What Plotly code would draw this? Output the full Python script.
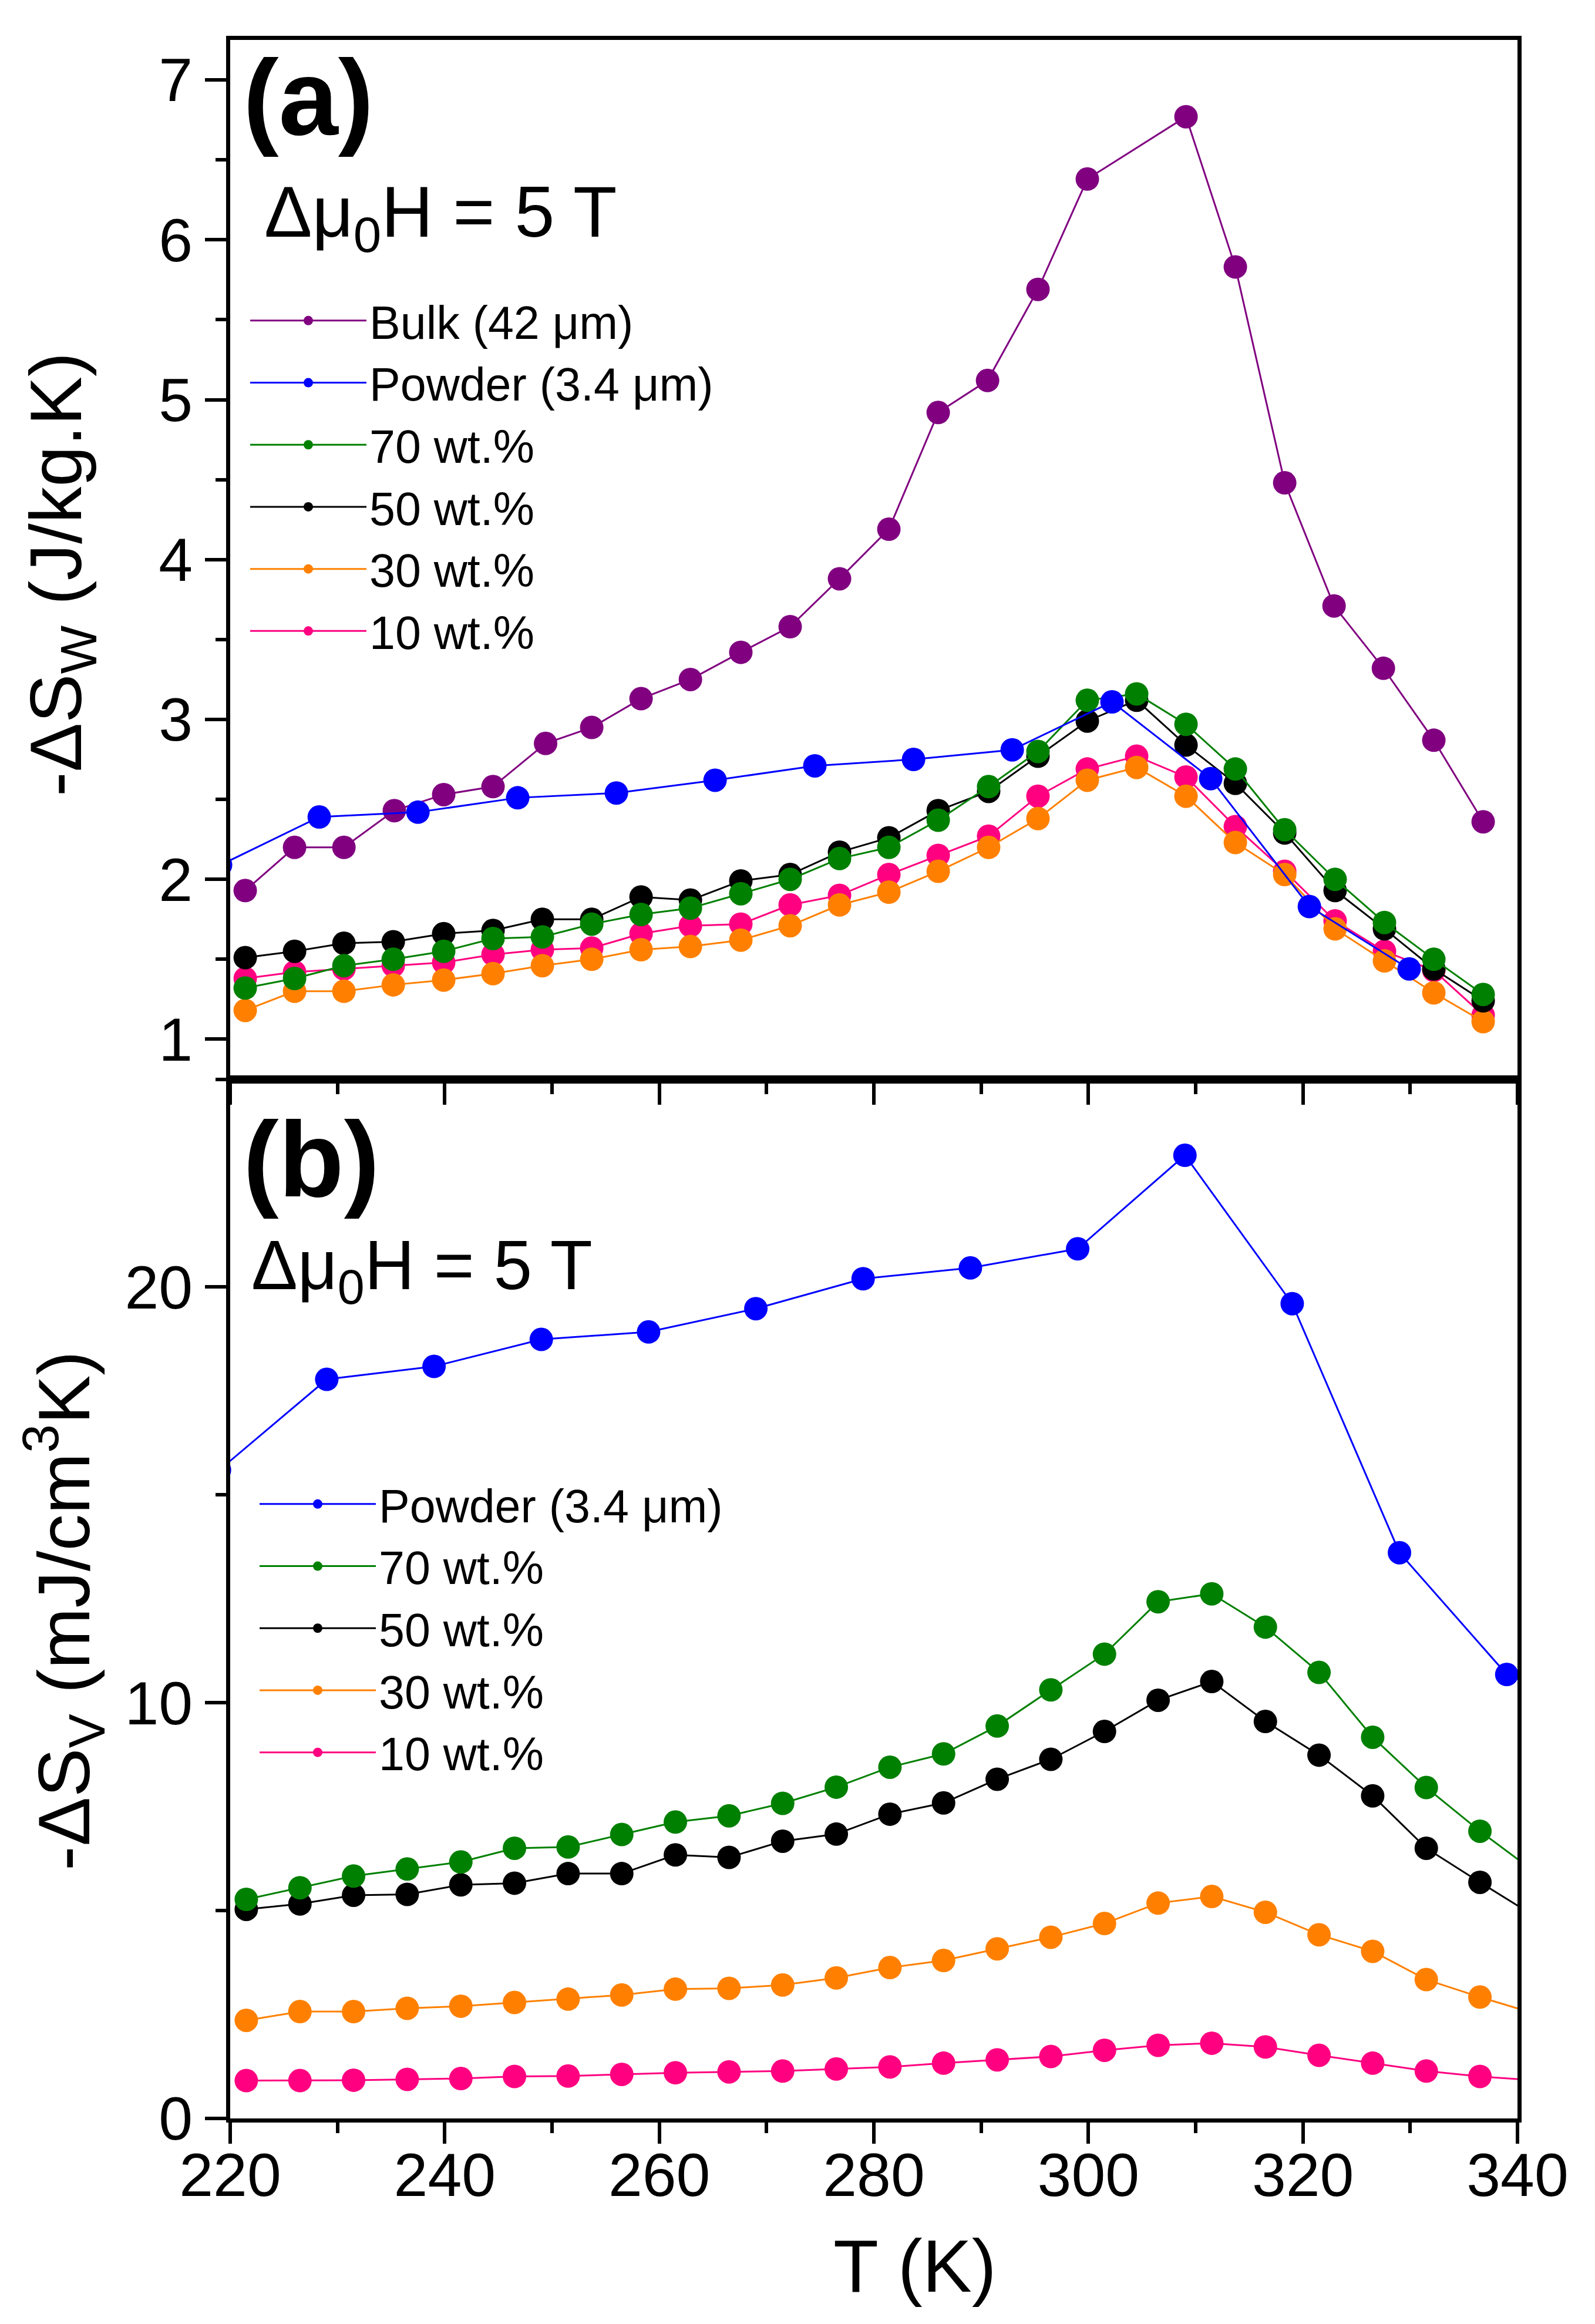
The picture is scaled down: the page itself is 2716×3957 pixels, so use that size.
import plotly.graph_objects as go
from plotly.subplots import make_subplots

# ---------------- data ----------------
T_a = [221.4, 226.0, 230.6, 235.2, 239.9, 244.5, 249.1, 253.7, 258.3, 262.9, 267.6, 272.2, 276.8,
       281.4, 286.0, 290.7, 295.3, 299.9, 304.5, 309.1, 313.7, 318.3, 323.0, 327.6, 332.2, 336.8]
T_bulk = [221.4, 226.0, 230.6, 235.3, 239.9, 244.5, 249.4, 253.7, 258.3, 262.9, 267.6, 272.2, 276.8,
          281.4, 286.0, 290.6, 295.3, 299.9, 309.1, 313.7, 318.3, 322.9, 327.5, 332.2, 336.8]
bulk_a = [1.93, 2.20, 2.20, 2.43, 2.53, 2.58, 2.85, 2.95, 3.13, 3.25, 3.42, 3.58, 3.88,
          4.19, 4.92, 5.12, 5.69, 6.38, 6.77, 5.83, 4.48, 3.71, 3.32, 2.87, 2.36]
T_powder_a = [219.1, 228.3, 237.5, 246.8, 256.0, 265.2, 274.5, 283.7, 292.9, 302.2, 311.4, 320.6, 329.9]
powder_a = [2.09, 2.39, 2.42, 2.51, 2.54, 2.62, 2.71, 2.75, 2.81, 3.11, 2.63, 1.83, 1.44]
w70_a = [1.32, 1.38, 1.46, 1.50, 1.55, 1.63, 1.64, 1.72, 1.78, 1.82, 1.91, 2.00, 2.13,
         2.20, 2.37, 2.58, 2.80, 3.12, 3.16, 2.97, 2.69, 2.31, 2.00, 1.73, 1.50, 1.28]
w50_a = [1.51, 1.55, 1.60, 1.61, 1.66, 1.68, 1.75, 1.75, 1.89, 1.87, 1.99, 2.03, 2.17,
         2.26, 2.43, 2.55, 2.77, 2.99, 3.12, 2.84, 2.60, 2.29, 1.93, 1.69, 1.44, 1.24]
w30_a = [1.18, 1.30, 1.30, 1.34, 1.37, 1.41, 1.46, 1.50, 1.56, 1.58, 1.62, 1.71, 1.84,
         1.92, 2.05, 2.20, 2.38, 2.62, 2.70, 2.52, 2.23, 2.03, 1.69, 1.49, 1.29, 1.11]
w10_a = [1.38, 1.42, 1.44, 1.46, 1.48, 1.53, 1.56, 1.57, 1.66, 1.71, 1.72, 1.84, 1.90,
         2.03, 2.15, 2.27, 2.52, 2.69, 2.77, 2.64, 2.33, 2.05, 1.74, 1.55, 1.43, 1.15]

T_b = [221.5, 226.5, 231.5, 236.5, 241.5, 246.5, 251.5, 256.5, 261.5, 266.5, 271.5, 276.5, 281.5,
       286.5, 291.5, 296.5, 301.5, 306.5, 311.5, 316.5, 321.5, 326.5, 331.5, 336.5, 341.5]
w70_b = [5.27, 5.55, 5.83, 6.00, 6.17, 6.50, 6.53, 6.83, 7.13, 7.28, 7.58, 7.97, 8.45,
         8.77, 9.44, 10.31, 11.17, 12.43, 12.62, 11.82, 10.73, 9.17, 7.96, 6.91, 5.95]
w50_b = [5.03, 5.16, 5.37, 5.39, 5.62, 5.66, 5.89, 5.89, 6.34, 6.28, 6.67, 6.84, 7.32,
         7.59, 8.16, 8.64, 9.31, 10.06, 10.51, 9.55, 8.74, 7.76, 6.50, 5.68, 4.88]
w30_b = [2.36, 2.57, 2.57, 2.65, 2.70, 2.79, 2.87, 2.97, 3.11, 3.13, 3.21, 3.38, 3.63,
         3.80, 4.08, 4.36, 4.69, 5.18, 5.34, 4.96, 4.42, 4.02, 3.34, 2.92, 2.53]
w10_b = [0.91, 0.91, 0.92, 0.94, 0.96, 1.01, 1.02, 1.06, 1.10, 1.12, 1.14, 1.19, 1.24,
         1.33, 1.41, 1.49, 1.64, 1.76, 1.81, 1.72, 1.52, 1.33, 1.14, 1.01, 0.92]
T_powder_b = [219, 229, 239, 249, 259, 269, 279, 289, 299, 309, 319, 329, 339]
powder_b = [15.6, 17.78, 18.09, 18.74, 18.92, 19.48, 20.20, 20.46, 20.92, 23.17, 19.60, 13.61, 10.68]

names = {"bulk": "Bulk (42 \u03bcm)", "powder": "Powder (3.4 \u03bcm)",
         "w70": "70 wt.%", "w50": "50 wt.%", "w30": "30 wt.%", "w10": "10 wt.%"}
colors = {"bulk": "#800080", "powder": "#0000FF", "w70": "#008000",
          "w50": "#000000", "w30": "#FF8000", "w10": "#FF0080"}
ranks = {"bulk": 1, "powder": 2, "w70": 3, "w50": 4, "w30": 5, "w10": 6}

FONT = "Liberation Sans, Arial, sans-serif"
W, H = 2716, 3957
L, R, TOP, BOT = 384, 140, 60, 358
PW, PH = W - L - R, H - TOP - BOT


def px(x):
    return (x - L) / PW


def py(y):
    return (H - BOT - y) / PH


fig = make_subplots(rows=2, cols=1, shared_xaxes=True, vertical_spacing=0)


def add(key, x, y, row, legend):
    fig.add_trace(go.Scatter(
        x=x, y=y, mode="lines+markers", name=names[key],
        line=dict(color=colors[key], width=3),
        marker=dict(color=colors[key], size=40, line=dict(width=0)),
        legend=legend, legendrank=ranks[key], cliponaxis=True,
    ), row=row, col=1)


add("bulk", T_bulk, bulk_a, 1, "legend")
add("w10", T_a, w10_a, 1, "legend")
add("w30", T_a, w30_a, 1, "legend")
add("w50", T_a, w50_a, 1, "legend")
add("w70", T_a, w70_a, 1, "legend")
add("powder", T_powder_a, powder_a, 1, "legend")

add("w10", T_b, w10_b, 2, "legend2")
add("w30", T_b, w30_b, 2, "legend2")
add("w50", T_b, w50_b, 2, "legend2")
add("w70", T_b, w70_b, 2, "legend2")
add("powder", T_powder_b, powder_b, 2, "legend2")

axis_common = dict(showline=True, linecolor="black", linewidth=7, mirror=True,
                   ticks="outside", ticklen=36, tickwidth=6, tickcolor="black",
                   showgrid=False, zeroline=False,
                   tickfont=dict(family=FONT, size=104, color="black"))

fig.update_xaxes(range=[220, 340], dtick=20, tick0=220,
                 minor=dict(dtick=10, tick0=220, ticks="outside", ticklen=18, tickwidth=6, tickcolor="black"),
                 **axis_common)
fig.update_xaxes(showticklabels=False, row=1, col=1)
fig.update_xaxes(showticklabels=True, ticklabelstandoff=-36, row=2, col=1)

fig.update_yaxes(range=[0.75, 7.25], dtick=1, tick0=0,
                 minor=dict(dtick=0.5, tick0=0, ticks="outside", ticklen=18, tickwidth=6, tickcolor="black"),
                 row=1, col=1, **axis_common)
fig.update_yaxes(range=[0, 25], dtick=10, tick0=0,
                 minor=dict(dtick=5, tick0=0, ticks="outside", ticklen=18, tickwidth=6, tickcolor="black"),
                 row=2, col=1, **axis_common)

legend_common = dict(xanchor="left", yanchor="top", bgcolor="rgba(0,0,0,0)",
                     font=dict(family=FONT, size=79, color="black"),
                     tracegroupgap=0, itemwidth=198)

annotations = [
    dict(text="<b>(a)</b>", x=px(404), y=py(158), size=182),
    dict(text="\u0394\u03bc<sub>0</sub>H = 5 T", x=px(440), y=py(362), size=122),
    dict(text="<b>(b)</b>", x=px(404), y=py(1966), size=182),
    dict(text="\u0394\u03bc<sub>0</sub>H = 5 T", x=px(418), y=py(2155), size=118),
]
ann = []
for a in annotations:
    ann.append(dict(xref="paper", yref="paper", xanchor="left", yanchor="middle",
                    showarrow=False, text=a["text"], x=a["x"], y=a["y"],
                    font=dict(family=FONT, size=a["size"], color="black")))
ann.append(dict(xref="paper", yref="paper", x=px(96), y=py(970), showarrow=False,
                text="-\u0394S<sub>W</sub> (J/kg.K)", textangle=-90,
                xanchor="center", yanchor="middle",
                font=dict(family=FONT, size=125, color="black")))
ann.append(dict(xref="paper", yref="paper", x=px(100), y=py(2735), showarrow=False,
                text="-\u0394S<sub>V</sub> (mJ/cm<sup>3</sup>K)", textangle=-90,
                xanchor="center", yanchor="middle",
                font=dict(family=FONT, size=125, color="black")))
ann.append(dict(xref="paper", yref="paper", x=px(1550), y=py(3850), showarrow=False,
                text="T (K)", xanchor="center", yanchor="middle",
                font=dict(family=FONT, size=126, color="black")))

fig.update_layout(
    width=W, height=H,
    margin=dict(l=L, r=R, t=TOP, b=BOT, autoexpand=False),
    paper_bgcolor="white", plot_bgcolor="white",
    font=dict(family=FONT, color="black"),
    showlegend=True,
    legend=dict(x=px(413), y=py(480), **legend_common),
    legend2=dict(x=px(429), y=py(2495), **legend_common),
    annotations=ann,
)

fig.write_html("out.html")
